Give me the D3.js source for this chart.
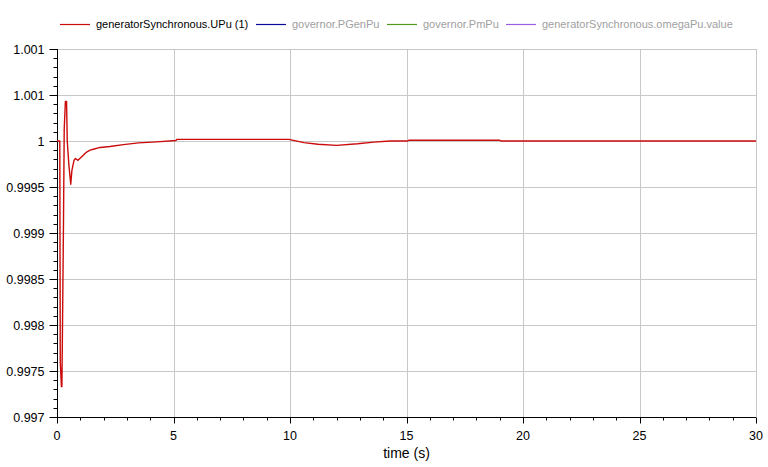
<!DOCTYPE html>
<html>
<head>
<meta charset="utf-8">
<script src="https://cdn.jsdelivr.net/npm/d3@7"></script>
<style>
  html, body { margin:0; padding:0; background:#fff; }
  svg { display:block; font-family:"Liberation Sans", Arial, sans-serif; }
</style>
</head>
<body>
<svg id="chart" width="768" height="467"></svg>
<script>
// simulation output
const timeS = [0, 0.12, 0.14, 0.19, 0.21, 0.24, 0.28, 0.31, 0.36, 0.41, 0.44, 0.51, 0.59, 0.64,
  0.73, 0.79, 0.90, 1.06, 1.27, 1.42, 1.56, 1.85, 2.27, 2.85, 3.5, 4.28, 5.1, 5.15, 9.95,
  10.6, 11.2, 12.0, 12.9, 13.6, 14.3, 15.05, 15.1, 19.0, 19.05, 30];
const uPu = [1.0, 1.0, 0.99760, 0.99733, 0.99733, 0.99809, 0.99916, 1.00013, 1.00043, 1.00043,
  1.0, 0.99974, 0.99953, 0.99968, 0.99979, 0.99981, 0.99979, 0.99983, 0.99988, 0.99990,
  0.99991, 0.99993, 0.99994, 0.99996, 0.99998, 0.99999, 1.000005, 1.000018, 1.000018,
  0.999982, 0.999964, 0.999953, 0.99997, 0.999988, 1.0, 1.0, 1.000008, 1.000008, 1.0, 1.0];

const legendNames  = ["generatorSynchronous.UPu (1)", "governor.PGenPu", "governor.PmPu", "generatorSynchronous.omegaPu.value"];
const legendColors = ["#cc0a0a", "#0a0a9a", "#4f9a1e", "#9a5fe0"];
const legendShown  = [true, false, false, false];

const xTicks = [0, 5, 10, 15, 20, 25, 30];
const yTicks = [0.997, 0.9975, 0.998, 0.9985, 0.999, 0.9995, 1.0, 1.0005, 1.001];
const yTickLabels = ["0.997", "0.9975", "0.998", "0.9985", "0.999", "0.9995", "1", "1.001", "1.001"];

const W = 768, H = 467;
const M = {left:57, right:12, top:49, bottom:50};
const svg = d3.select("#chart");

const x = d3.scaleLinear().domain([0, 30]).range([M.left, W - M.right]);
const y = d3.scaleLinear().domain([0.997, 1.001]).range([H - M.bottom, M.top]);

// grid
const grid = svg.append("g").attr("stroke", "#c8c8c8").attr("stroke-width", 1);
grid.selectAll("line.gx").data(xTicks.slice(1)).enter().append("line")
  .attr("x1", d => Math.round(x(d)) + 0.5).attr("x2", d => Math.round(x(d)) + 0.5)
  .attr("y1", y(1.001)).attr("y2", y(0.997));
grid.selectAll("line.gy").data(yTicks.slice(1)).enter().append("line")
  .attr("y1", d => Math.round(y(d)) + 0.5).attr("y2", d => Math.round(y(d)) + 0.5)
  .attr("x1", x(0)).attr("x2", x(30));

// minor ticks
const xMinor = d3.range(0, 30.01, 1).filter(d => d % 5 !== 0);
const yMinor = d3.range(0, 41).map(i => 0.997 + i * 0.0001).filter((d, i) => i % 5 !== 0);

// x axis
const gx = svg.append("g").attr("transform", "translate(0," + (Math.round(y(0.997)) + 0.5) + ")");
gx.append("line").attr("x1", x(0)).attr("x2", x(30)).attr("stroke", "#000");
gx.selectAll("line.mn").data(xMinor).enter().append("line")
  .attr("x1", d => Math.round(x(d)) + 0.5).attr("x2", d => Math.round(x(d)) + 0.5)
  .attr("y1", 0).attr("y2", 3).attr("stroke", "#000");
gx.selectAll("line.mj").data(xTicks).enter().append("line")
  .attr("x1", d => Math.round(x(d)) + 0.5).attr("x2", d => Math.round(x(d)) + 0.5)
  .attr("y1", 0).attr("y2", 6).attr("stroke", "#000");
gx.selectAll("text").data(xTicks).enter().append("text")
  .attr("x", d => x(d)).attr("y", 22)
  .attr("text-anchor", "middle").attr("font-size", 12.5).attr("fill", "#000")
  .text(d => d);
svg.append("text").attr("x", (x(0) + x(30)) / 2).attr("y", 458)
  .attr("text-anchor", "middle").attr("font-size", 14).attr("fill", "#000")
  .text("time (s)");

// y axis
const gy = svg.append("g").attr("transform", "translate(" + (Math.round(x(0)) + 0.5) + ",0)");
gy.append("line").attr("y1", y(1.001)).attr("y2", y(0.997)).attr("stroke", "#000");
gy.selectAll("line.mn").data(yMinor).enter().append("line")
  .attr("y1", d => Math.round(y(d)) + 0.5).attr("y2", d => Math.round(y(d)) + 0.5)
  .attr("x1", -4).attr("x2", 0).attr("stroke", "#000");
gy.selectAll("line.mj").data(yTicks).enter().append("line")
  .attr("y1", d => Math.round(y(d)) + 0.5).attr("y2", d => Math.round(y(d)) + 0.5)
  .attr("x1", -8).attr("x2", 0).attr("stroke", "#000");
gy.selectAll("text").data(yTicks).enter().append("text")
  .attr("x", -13).attr("y", d => y(d)).attr("dy", "0.36em")
  .attr("text-anchor", "end").attr("font-size", 12.5).attr("fill", "#000")
  .text((d, i) => yTickLabels[i]);

// curve
const line = d3.line().x(d => x(d[0])).y(d => y(d[1]));
svg.append("path")
  .datum(timeS.map((t, i) => [t, uPu[i]]))
  .attr("d", line)
  .attr("fill", "none").attr("stroke", legendColors[0]).attr("stroke-width", 1.4)
  .attr("stroke-linejoin", "round");

// legend
const legX = [60, 256, 387, 506];
const lg = svg.append("g");
legendNames.forEach((n, i) => {
  lg.append("line").attr("x1", legX[i]).attr("x2", legX[i] + 30)
    .attr("y1", 24.5).attr("y2", 24.5)
    .attr("stroke", legendColors[i]).attr("stroke-width", 1.2);
  lg.append("text").attr("x", legX[i] + 36).attr("y", 24).attr("dy", "0.36em")
    .attr("font-size", 11).attr("fill", legendShown[i] ? "#000" : "#a0a0a0")
    .text(n);
});
</script>
</body>
</html>
